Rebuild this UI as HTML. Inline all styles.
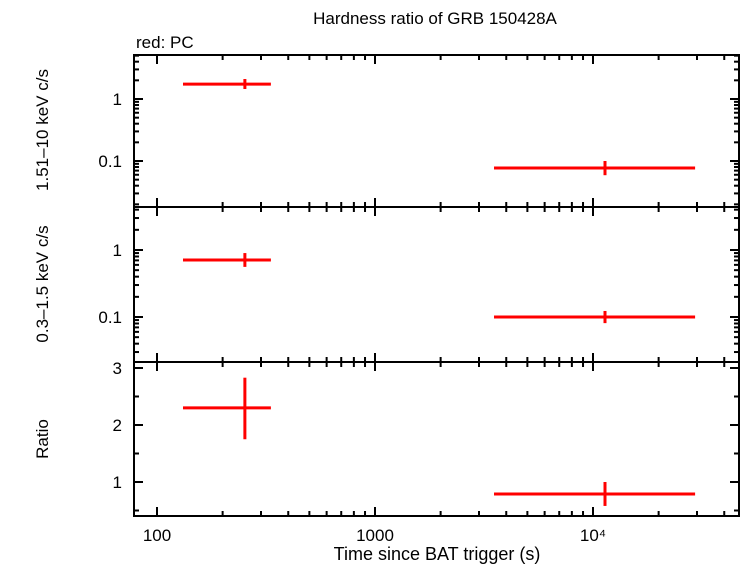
<!DOCTYPE html>
<html><head><meta charset="utf-8"><style>body{margin:0;background:#fff}svg{display:block;font-family:"Liberation Sans",sans-serif}</style></head>
<body>
<svg id="c" width="742" height="566" xmlns="http://www.w3.org/2000/svg"></svg>
<script>
const tStart=[131.6,3515];
const tEnd=[333,29400];
const tMid=[253,11350];
const hardVal=[1.74,0.077];
const hardLo=[1.45,0.059];
const hardHi=[2.1,0.10];
const softVal=[0.71,0.1];
const softLo=[0.56,0.081];
const softHi=[0.90,0.123];
const ratioVal=[2.3,0.79];
const ratioLo=[1.75,0.58];
const ratioHi=[2.83,1.0];
const xTickVals=[100,1000,10000];
const xTickLabels=['100','1000','10⁴'];

const svg=document.getElementById('c');const NS='http://www.w3.org/2000/svg';
function el(t,a,p){const e=document.createElementNS(NS,t);for(const k in a)e.setAttribute(k,a[k]);(p||svg).appendChild(e);return e;}
const L=134,R=739;
const X=t=>157+218*Math.log10(t/100);
const panels=[
 {top:55,bot:207,y:v=>99-62*Math.log10(v),log:true,lo:0.018,hi:5.1,ticks:[1,0.1],labels:['1','0.1'],v:hardVal,l:hardLo,h:hardHi,name:'hard-panel'},
 {top:207,bot:362,y:v=>250-67*Math.log10(v),log:true,lo:0.021,hi:4.5,ticks:[1,0.1],labels:['1','0.1'],v:softVal,l:softLo,h:softHi,name:'soft-panel'},
 {top:362,bot:516,y:v=>425-57*(v-2),log:false,ticks:[3,2,1],labels:['3','2','1'],v:ratioVal,l:ratioLo,h:ratioHi,name:'ratio-panel'}
];
panels.forEach((p,pi)=>{
 const g=el('g',{});
 const ys=[];
 if(p.log){for(let d=-2;d<=0;d++)for(let m=1;m<10;m++){const v=m*Math.pow(10,d);if(v>=p.lo&&v<=p.hi)ys.push([p.y(v),m==1]);}}
 else{for(let v=0.5;v<=3.01;v+=0.5){const yy=p.y(v);if(yy>=p.top&&yy<=p.bot)ys.push([yy,Math.abs(v-Math.round(v))<0.01]);}}
 ys.forEach(([yy,maj])=>{const w=maj?9:5;el('line',{x1:L,x2:L+w,y1:yy,y2:yy,stroke:'#000','stroke-width':2},g);el('line',{x1:R,x2:R-w,y1:yy,y2:yy,stroke:'#000','stroke-width':2},g);});
 p.ticks.forEach((v,i)=>{const t=el('text',{x:L-12,y:p.y(v)+6,'text-anchor':'end','font-size':17},g);t.textContent=p.labels[i];});
 for(let d=2;d<=4;d++)for(let m=1;m<10;m++){const t=m*Math.pow(10,d);const xx=X(t);if(xx<L||xx>R)continue;const w=m==1?9:5;
  el('line',{x1:xx,x2:xx,y1:p.bot,y2:p.bot-w,stroke:'#000','stroke-width':2},g);el('line',{x1:xx,x2:xx,y1:p.top,y2:p.top+w,stroke:'#000','stroke-width':2},g);}
 el('rect',{x:L,y:p.top,width:R-L,height:p.bot-p.top,fill:'none',stroke:'#000','stroke-width':2},g);
 for(let i=0;i<p.v.length;i++){
  const h=el('line',{x1:X(tStart[i]),x2:X(tEnd[i]),y1:p.y(p.v[i]),y2:p.y(p.v[i]),stroke:'#f00','stroke-width':3},g);
  
  const v=el('line',{x1:X(tMid[i]),x2:X(tMid[i]),y1:p.y(p.l[i]),y2:p.y(p.h[i]),stroke:'#f00','stroke-width':3},g);
  
 }
});
xTickVals.forEach((t,i)=>{const e=el('text',{x:X(t),y:541,'text-anchor':'middle','font-size':17});e.textContent=xTickLabels[i];});
function txt(s,a,name){const e=el('text',a);e.textContent=s;}
txt('Hardness ratio of GRB 150428A',{x:435,y:24,'text-anchor':'middle','font-size':17},'chart-title');
txt('red: PC',{x:136,y:48,'font-size':17},'legend-label');
txt('Time since BAT trigger (s)',{x:437,y:560,'text-anchor':'middle','font-size':18},'x-axis-title');
txt('1.51–10 keV c/s',{x:0,y:0,'text-anchor':'middle','font-size':17,transform:'translate(48,130) rotate(-90)'},'y-axis-title-hard');
txt('0.3–1.5 keV c/s',{x:0,y:0,'text-anchor':'middle','font-size':17,transform:'translate(48,284) rotate(-90)'},'y-axis-title-soft');
txt('Ratio',{x:0,y:0,'text-anchor':'middle','font-size':17,transform:'translate(48,439) rotate(-90)'},'y-axis-title-ratio');
</script>
</body></html>
